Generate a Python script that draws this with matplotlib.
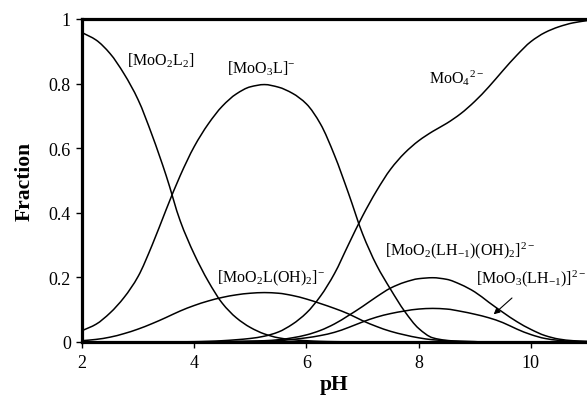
import matplotlib
matplotlib.use("Agg")
import matplotlib.pyplot as plt
import numpy as np
from matplotlib.path import Path
from matplotlib.patches import PathPatch

plt.rcParams['font.family'] = ['Liberation Serif', 'DejaVu Serif']
plt.rcParams['mathtext.fontset'] = 'custom'
plt.rcParams['mathtext.rm'] = 'Liberation Serif'
plt.rcParams['mathtext.it'] = 'Liberation Serif:italic'
plt.rcParams['mathtext.bf'] = 'Liberation Serif:bold'

pH = [2, 2.25, 2.5, 2.75, 3, 3.25, 3.5, 3.75, 4, 4.25, 4.5, 4.75, 5, 5.25, 5.5, 5.75,
      6, 6.25, 6.5, 6.75, 7, 7.25, 7.5, 7.75, 8, 8.25, 8.5, 8.75, 9, 9.25, 9.5, 9.75,
      10, 10.25, 10.5, 10.75, 11]

MoO2L2 = [0.958, 0.935, 0.893, 0.830, 0.750, 0.640, 0.515, 0.375, 0.272, 0.188, 0.120, 0.075,
          0.045, 0.025, 0.013, 0.007, 0.004, 0.002, 0.001, 0.0005, 0, 0, 0, 0, 0, 0, 0, 0,
          0, 0, 0, 0, 0, 0, 0, 0, 0]

MoO3L = [0.035, 0.055, 0.090, 0.138, 0.203, 0.300, 0.410, 0.515, 0.605, 0.675, 0.730, 0.768,
         0.790, 0.797, 0.789, 0.770, 0.737, 0.675, 0.578, 0.460, 0.335, 0.238, 0.163, 0.095,
         0.042, 0.013, 0.005, 0.002, 0.001, 0, 0, 0, 0, 0, 0, 0, 0]

MoO4 = [0, 0, 0, 0, 0, 0, 0, 0.0005, 0.001, 0.002, 0.004, 0.007, 0.011, 0.018, 0.031, 0.055,
        0.090, 0.142, 0.212, 0.302, 0.390, 0.468, 0.535, 0.585, 0.623, 0.652, 0.677, 0.707,
        0.745, 0.790, 0.840, 0.888, 0.930, 0.958, 0.976, 0.988, 0.995]

MoO2LOH2 = [0.004, 0.008, 0.015, 0.026, 0.040, 0.057, 0.076, 0.096, 0.113, 0.127, 0.138, 0.146,
            0.151, 0.153, 0.151, 0.144, 0.133, 0.119, 0.104, 0.087, 0.066, 0.048, 0.033, 0.022,
            0.013, 0.007, 0.004, 0.002, 0.001, 0, 0, 0, 0, 0, 0, 0, 0]

MoO2LH1OH2 = [0, 0, 0, 0, 0, 0, 0, 0, 0.0005, 0.001, 0.001, 0.002, 0.003, 0.004, 0.007, 0.013,
              0.022, 0.036, 0.056, 0.082, 0.110, 0.140, 0.167, 0.185, 0.196, 0.199, 0.194, 0.178,
              0.155, 0.123, 0.092, 0.063, 0.039, 0.020, 0.009, 0.004, 0.002]

MoO3LH1 = [0, 0, 0, 0, 0, 0, 0, 0, 0, 0, 0.0005, 0.001, 0.001, 0.002, 0.004, 0.008,
           0.013, 0.020, 0.030, 0.045, 0.062, 0.077, 0.088, 0.096, 0.102, 0.104, 0.102, 0.095,
           0.086, 0.075, 0.060, 0.040, 0.023, 0.011, 0.005, 0.002, 0.001]

series = [MoO2L2, MoO3L, MoO4, MoO2LOH2, MoO2LH1OH2, MoO3LH1]

labels = [r'[MoO$_2$L$_2$]', r'[MoO$_3$L]$^{-}$', r'MoO$_4$$^{2-}$',
          r'[MoO$_2$L(OH)$_2$]$^{-}$', r'[MoO$_2$(LH$_{-1}$)(OH)$_2$]$^{2-}$',
          r'[MoO$_3$(LH$_{-1}$)]$^{2-}$']
label_pos = [(3.41, 0.875), (5.2, 0.85), (8.67, 0.82), (5.37, 0.20), (8.74, 0.285), (10.0, 0.198)]

xticks = [2, 4, 6, 8, 10]
yticks = [0, 0.2, 0.4, 0.6, 0.8, 1]
yticklabels = ['0', '0.2', '0.4', '0.6', '0.8', '1']


def smooth_path(x, y):
    """Monotone cubic (Fritsch-Carlson) tangents, drawn as Bezier segments."""
    x = np.asarray(x, float)
    y = np.asarray(y, float)
    h = np.diff(x)
    d = np.diff(y) / h
    m = np.zeros_like(y)
    m[0], m[-1] = d[0], d[-1]
    for i in range(1, len(y) - 1):
        if d[i - 1] * d[i] <= 0:
            m[i] = 0.0
        else:
            w1 = 2 * h[i] + h[i - 1]
            w2 = h[i] + 2 * h[i - 1]
            m[i] = (w1 + w2) / (w1 / d[i - 1] + w2 / d[i])
    verts = [(x[0], y[0])]
    codes = [Path.MOVETO]
    for i in range(len(x) - 1):
        verts += [(x[i] + h[i] / 3, y[i] + m[i] * h[i] / 3),
                  (x[i + 1] - h[i] / 3, y[i + 1] - m[i + 1] * h[i] / 3),
                  (x[i + 1], y[i + 1])]
        codes += [Path.CURVE4] * 3
    return Path(verts, codes)


fig = plt.figure(figsize=(5.87, 4.02), dpi=100)
ax = fig.add_axes([82/587, 59/402, 1 - 82/587, 323/402])

for s in series:
    ax.add_patch(PathPatch(smooth_path(pH, s), facecolor='none', edgecolor='black',
                           lw=1.1, clip_on=False, zorder=3))

for (lx, ly), t in zip(label_pos, labels):
    ax.text(lx, ly, t, fontsize=11.5, ha='center', va='center')

ax.annotate('', xy=(9.3, 0.08), xytext=(9.7, 0.142),
            arrowprops=dict(arrowstyle='-|>', color='black', lw=0.8, mutation_scale=9))

ax.set_xlim(2, 11)
ax.set_ylim(0, 1)
ax.set_xticks(xticks)
ax.set_xticklabels([str(v) for v in xticks])
ax.set_yticks(yticks)
ax.set_yticklabels(yticklabels)
ax.tick_params(direction='out', length=4, width=1, labelsize=13, pad=4)
ax.tick_params(axis='x', pad=5)

for side in ['left', 'bottom', 'top']:
    ax.spines[side].set_linewidth(2.3)
    ax.spines[side].set_zorder(4)
ax.spines['right'].set_visible(False)

ax.set_xlabel('pH', fontsize=15.5, fontweight='bold', labelpad=2)
ax.set_ylabel('Fraction', fontsize=15.5, fontweight='bold', labelpad=10)

fig.savefig('out.png', dpi=100)
